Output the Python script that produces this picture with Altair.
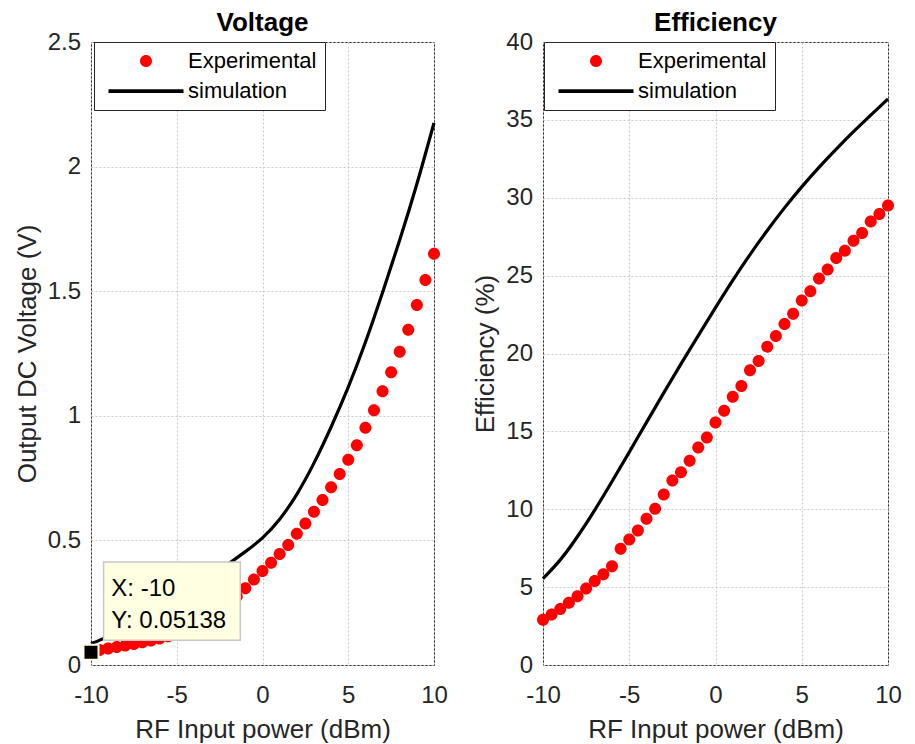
import altair as alt
import pandas as pd

FONT = "Liberation Sans"

# ---------------- data ----------------
series_names = ["Experimental", "simulation"]

exp_power = [-10, -9.5, -9, -8.5, -8, -7.5, -7, -6.5, -6, -5.5, -5, -4.5, -4, -3.5,
             -3, -2.5, -2, -1.5, -1, -0.5, 0, 0.5, 1, 1.5, 2, 2.5, 3, 3.5, 4, 4.5,
             5, 5.5, 6, 6.5, 7, 7.5, 8, 8.5, 9, 9.5, 10]
exp_voltage = [0.0514, 0.060, 0.066, 0.072, 0.078, 0.084, 0.091, 0.098, 0.106, 0.115,
               0.126, 0.139, 0.155, 0.173, 0.194, 0.218, 0.245, 0.275, 0.308, 0.343,
               0.377, 0.410, 0.445, 0.482, 0.527, 0.568, 0.615, 0.662, 0.713, 0.766,
               0.824, 0.882, 0.952, 1.022, 1.099, 1.175, 1.257, 1.345, 1.445, 1.545, 1.650]
exp_efficiency = [2.9, 3.25, 3.6, 3.99, 4.42, 4.91, 5.4, 5.82, 6.34, 7.47, 8.06, 8.64,
                  9.39, 10.03, 10.94, 11.84, 12.37, 13.12, 13.97, 14.61, 15.57, 16.32,
                  17.22, 17.92, 18.92, 19.52, 20.44, 21.12, 21.9, 22.55, 23.4, 24.0,
                  24.81, 25.39, 26.13, 26.6, 27.24, 27.73, 28.48, 28.95, 29.5]

sim_power = [-10, -9, -8, -7, -6, -5, -4, -3, -2, -1, 0, 1, 2, 3, 4, 5, 6, 7, 8, 9, 10]
sim_voltage = [0.085, 0.115, 0.15, 0.185, 0.222, 0.26, 0.305, 0.355, 0.405, 0.455, 0.51,
               0.585, 0.685, 0.81, 0.955, 1.115, 1.295, 1.495, 1.705, 1.93, 2.175]
sim_efficiency = [5.55, 6.75, 8.25, 9.95, 11.78, 13.67, 15.58, 17.47, 19.33, 21.15, 22.95,
                  24.7, 26.35, 27.9, 29.35, 30.7, 31.95, 33.12, 34.24, 35.31, 36.35]

tip_x = -10
tip_y = 0.05138

x_ticks = [-10, -5, 0, 5, 10]
v_ticks = [0, 0.5, 1, 1.5, 2, 2.5]
e_ticks = [0, 5, 10, 15, 20, 25, 30, 35, 40]

# ---------------- tables ----------------
exp_df = pd.DataFrame({"power": exp_power, "voltage": exp_voltage,
                       "efficiency": exp_efficiency, "series": series_names[0]})
sim_df = pd.DataFrame({"power": sim_power, "voltage": sim_voltage,
                       "efficiency": sim_efficiency, "series": series_names[1]})
tip_df = pd.DataFrame({"x": [tip_x], "y": [tip_y],
                       "lx": [f"X: {tip_x}"], "ly": [f"Y: {tip_y}"]})

CIRCLE = "M-0.8,0A0.8,0.8,0,1,0,0.8,0A0.8,0.8,0,1,0,-0.8,0Z"
LINESYM = "M-5,-0.25H5V0.25H-5Z"

color_scale = alt.Scale(domain=series_names, range=["#FF0000", "#000000"])
shape_scale = alt.Scale(domain=series_names, range=[CIRCLE, LINESYM])

LABEL_EXPR = "'' + datum.value"


def make_legend(lx):
    return alt.Legend(title=None, orient="none", legendX=lx, legendY=0,
                      padding=8, rowPadding=8, symbolSize=225,
                      symbolOffset=33, labelOffset=31, symbolStrokeWidth=0,
                      symbolOpacity=1, labelFont=FONT, labelFontSize=22,
                      labelColor="#000000", strokeColor="#262626",
                      fillColor="#FFFFFF")


def panel(field, ytitle, ydomain, yticks, title, lx, with_tip=False, w=343):
    x_enc = alt.X("power:Q", title="RF Input power (dBm)",
                  scale=alt.Scale(domain=[-10, 10], nice=False),
                  axis=alt.Axis(values=x_ticks, labelExpr=LABEL_EXPR, labelFlush=False))
    y_enc = alt.Y(f"{field}:Q", title=ytitle,
                  scale=alt.Scale(domain=ydomain, nice=False),
                  axis=alt.Axis(values=yticks, labelExpr=LABEL_EXPR, labelFlush=False))
    line = alt.Chart(sim_df).mark_line(strokeWidth=3.2, interpolate="natural").encode(
        x=x_enc, y=y_enc,
        color=alt.Color("series:N", scale=color_scale, legend=None))
    pts = alt.Chart(exp_df).mark_point(filled=True, size=225, opacity=1, strokeWidth=0).encode(
        x=x_enc, y=y_enc,
        color=alt.Color("series:N", scale=color_scale, legend=make_legend(lx)),
        shape=alt.Shape("series:N", scale=shape_scale, legend=make_legend(lx)))
    layers = [pts, line]
    if with_tip:
        box = alt.Chart(tip_df).mark_rect(
            fill="#FFFFE1", stroke="#C8C8C8", strokeWidth=1.5,
            xOffset=12.6, x2Offset=149.3, yOffset=-90.2, y2Offset=-11.9).encode(
            x="x:Q", x2="x", y="y:Q", y2="y")
        t1 = alt.Chart(tip_df).mark_text(
            align="left", baseline="alphabetic", dx=20.3, dy=-56.2,
            font=FONT, fontSize=24, color="#000000").encode(x="x:Q", y="y:Q", text="lx:N")
        t2 = alt.Chart(tip_df).mark_text(
            align="left", baseline="alphabetic", dx=20.3, dy=-24.5,
            font=FONT, fontSize=24, color="#000000").encode(x="x:Q", y="y:Q", text="ly:N")
        sq = alt.Chart(tip_df).mark_square(
            size=225, fill="#000000", stroke="#FFFFE1", strokeWidth=2, opacity=1).encode(
            x="x:Q", y="y:Q")
        layers += [box, t1, t2, sq]
    return alt.layer(*layers).properties(
        width=w, height=623,
        title=alt.Title(title, font=FONT, fontSize=26, fontWeight="bold",
                        color="#000000", offset=-6, frame="group"))


left = panel("voltage", "Output DC Voltage (V)", [0, 2.5], v_ticks, "Voltage", 3,
             with_tip=True, w=343)
right = panel("efficiency", "Efficiency (%)", [0, 40], e_ticks, "Efficiency", 1, w=345)

chart = alt.hconcat(left, right, spacing=109, bounds="flush").resolve_scale(
    color="independent", shape="independent"
).properties(
    padding={"left": 5, "top": 1, "right": 5, "bottom": 0}
).configure_view(
    stroke="#262626", strokeWidth=1
).configure_axis(
    labelFont=FONT, labelFontSize=24, labelColor="#262626",
    titleFont=FONT, titleFontSize=26, titleColor="#262626", titleFontWeight="normal",
    gridColor="#C8C8C8", gridDash=[2, 2], gridWidth=1,
    domain=False, ticks=False, tickSize=0
).configure_axisX(
    labelPadding=18, titlePadding=9
).configure_axisY(
    labelPadding=10.5, titlePadding=7
)

chart.save("out.html", embed_options={"renderer": "svg", "actions": False})
